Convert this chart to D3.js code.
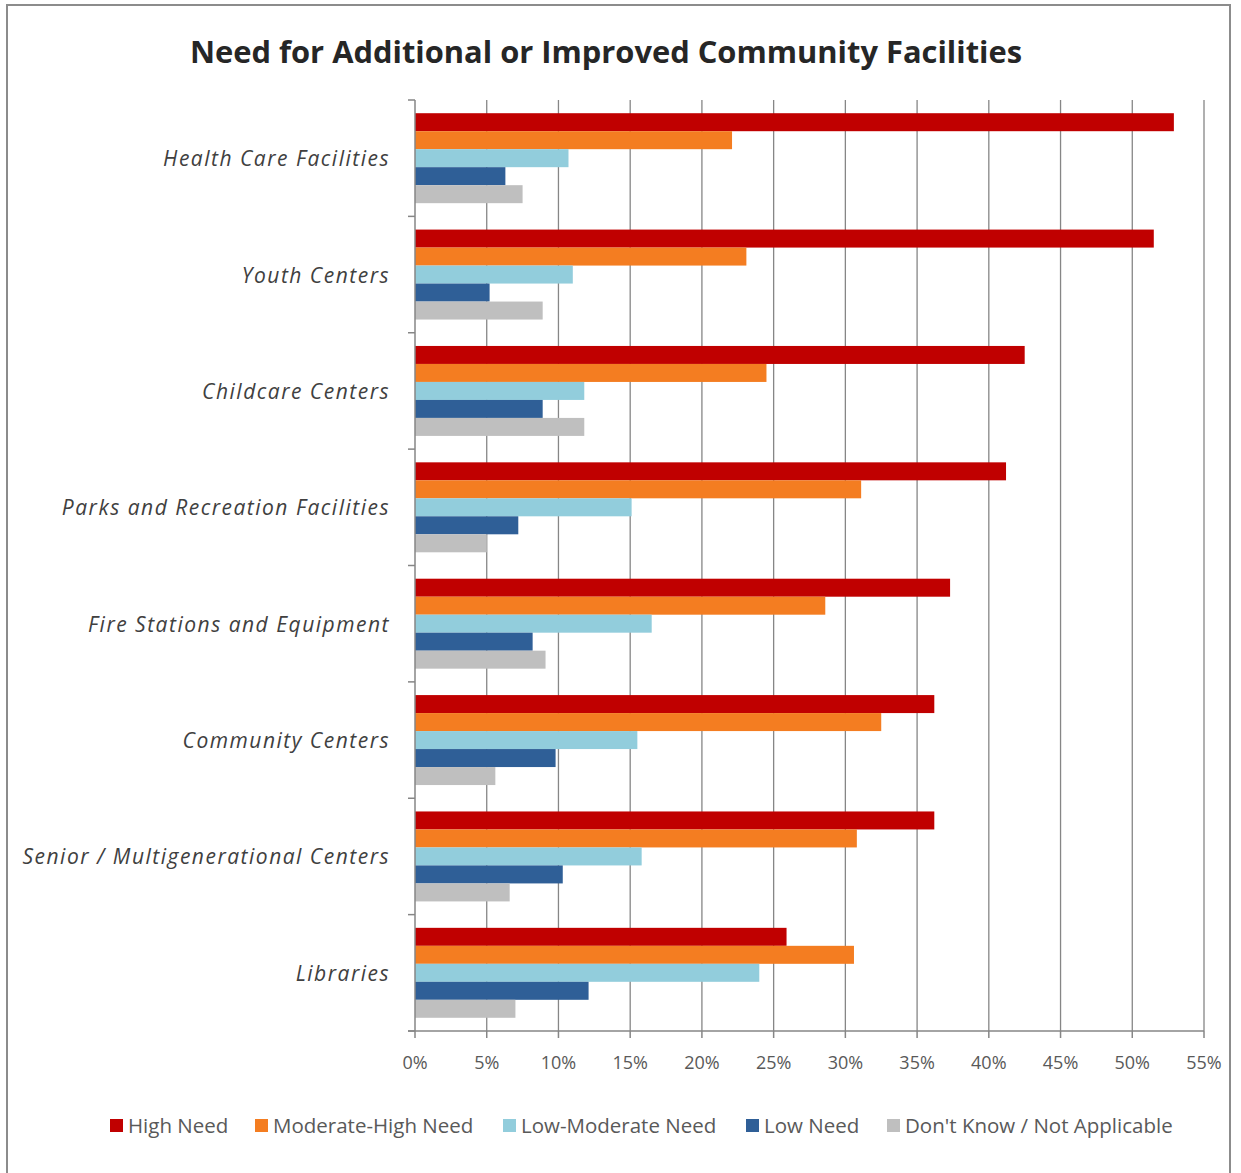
<!DOCTYPE html>
<html>
<head>
<meta charset="utf-8">
<script src="https://cdn.jsdelivr.net/npm/d3@7"></script>
<style>
  body { margin: 0; background: #fff; }
  svg text { font-family: "Open Sans", "DejaVu Sans", sans-serif; }
</style>
</head>
<body>
<div class="chart"></div>
<script>
var w = 1241;
var h = 1173;

// categories, top to bottom
var categories = ["Health Care Facilities", "Youth Centers", "Childcare Centers",
  "Parks and Recreation Facilities", "Fire Stations and Equipment",
  "Community Centers", "Senior / Multigenerational Centers", "Libraries"];

var seriesNames = ["High Need", "Moderate-High Need", "Low-Moderate Need", "Low Need", "Don't Know / Not Applicable"];

// percent values, one per category
var highNeed     = [52.9, 51.5, 42.5, 41.2, 37.3, 36.2, 36.2, 25.9];
var modHighNeed  = [22.1, 23.1, 24.5, 31.1, 28.6, 32.5, 30.8, 30.6];
var lowModNeed   = [10.7, 11.0, 11.8, 15.1, 16.5, 15.5, 15.8, 24.0];
var lowNeed      = [6.3, 5.2, 8.9, 7.2, 8.2, 9.8, 10.3, 12.1];
var dontKnow     = [7.5, 8.9, 11.8, 5.0, 9.1, 5.6, 6.6, 7.0];

var tickValues = [0, 5, 10, 15, 20, 25, 30, 35, 40, 45, 50, 55];

var colors = ["#C00000", "#F47D21", "#92CDDC", "#2F5F97", "#BFBFBF"];
var seriesValues = [highNeed, modHighNeed, lowModNeed, lowNeed, dontKnow];

var plotLeft = 415, plotRight = 1204, plotTop = 100, plotBottom = 1031;

var svg = d3.select(".chart")
            .append("svg")
            .attr("width", w)
            .attr("height", h);

// outer frame
svg.append("path")
    .attr("d", "M7,1173 V5 H1230 V1173")
    .attr("fill", "none")
    .attr("stroke", "#8c8c8c")
    .attr("stroke-width", 2);

svg.append("text")
    .text("Need for Additional or Improved Community Facilities")
    .attr("x", 190)
    .attr("y", 63)
    .attr("textLength", 832)
    .attr("lengthAdjust", "spacingAndGlyphs")
    .attr("font-size", "31px")
    .attr("font-weight", "bold")
    .attr("fill", "#262626");

var xScale = d3.scaleLinear()
                .domain([0, 55])
                .range([plotLeft, plotRight]);

var yScale = d3.scaleBand()
                .domain(categories)
                .range([plotTop, plotBottom])
                .paddingInner(0.227)
                .paddingOuter(0.1135);

var inner = d3.scaleBand()
                .domain(d3.range(seriesNames.length))
                .range([0, yScale.bandwidth()]);

// band boundaries for tick marks
var step = yScale.step();
var bounds = d3.range(categories.length + 1).map(function (i) { return plotTop + i * step; });

// gridlines
svg.selectAll("line.grid")
    .data(tickValues.slice(1))
    .enter()
    .append("line")
    .attr("class", "grid")
    .attr("x1", function (d) { return xScale(d); })
    .attr("x2", function (d) { return xScale(d); })
    .attr("y1", plotTop)
    .attr("y2", plotBottom)
    .attr("stroke", "#868686")
    .attr("stroke-width", 1.3);

// bars
seriesValues.forEach(function (vals, s) {
    svg.selectAll("rect.s" + s)
        .data(vals)
        .enter()
        .append("rect")
        .attr("class", "s" + s)
        .attr("x", xScale(0))
        .attr("y", function (d, i) { return yScale(categories[i]) + inner(s); })
        .attr("width", function (d) { return xScale(d) - xScale(0); })
        .attr("height", inner.bandwidth())
        .attr("fill", colors[s]);
});

// y axis
svg.append("line")
    .attr("x1", plotLeft).attr("x2", plotLeft)
    .attr("y1", plotTop).attr("y2", plotBottom)
    .attr("stroke", "#868686").attr("stroke-width", 1.5);
svg.selectAll("line.ytick")
    .data(bounds)
    .enter()
    .append("line")
    .attr("class", "ytick")
    .attr("x1", plotLeft - 7).attr("x2", plotLeft)
    .attr("y1", function (d) { return d; })
    .attr("y2", function (d) { return d; })
    .attr("stroke", "#868686").attr("stroke-width", 1.5);

// x axis
svg.append("line")
    .attr("x1", plotLeft - 7).attr("x2", plotRight)
    .attr("y1", plotBottom).attr("y2", plotBottom)
    .attr("stroke", "#868686").attr("stroke-width", 1.5);
svg.selectAll("line.xtick")
    .data(tickValues)
    .enter()
    .append("line")
    .attr("class", "xtick")
    .attr("x1", function (d) { return xScale(d); })
    .attr("x2", function (d) { return xScale(d); })
    .attr("y1", plotBottom).attr("y2", plotBottom + 7)
    .attr("stroke", "#868686").attr("stroke-width", 1.5);

svg.selectAll("text.xlabel")
    .data(tickValues)
    .enter()
    .append("text")
    .attr("class", "xlabel")
    .text(function (d) { return d + "%"; })
    .attr("text-anchor", "middle")
    .attr("x", function (d) { return xScale(d); })
    .attr("y", 1069)
    .attr("font-size", "18px")
    .attr("fill", "#595959");

// category labels
svg.selectAll("text.ylabel")
    .data(categories)
    .enter()
    .append("text")
    .attr("class", "ylabel")
    .text(function (d) { return d; })
    .attr("text-anchor", "end")
    .attr("x", 390)
    .attr("y", function (d) { return yScale(d) + yScale.bandwidth() / 2 + 8; })
    .attr("font-size", "21px")
    .attr("font-style", "italic")
    .attr("letter-spacing", "1.5px")
    .attr("fill", "#404040");

// legend
var legendX = [110, 255, 503, 746, 887];
var legend = svg.selectAll("g.legend")
    .data(seriesNames)
    .enter()
    .append("g")
    .attr("class", "legend")
    .attr("transform", function (d, i) { return "translate(" + legendX[i] + ",1126)"; });
legend.append("rect")
    .attr("x", 0).attr("y", -7)
    .attr("width", 13).attr("height", 13)
    .attr("fill", function (d, i) { return colors[i]; });
legend.append("text")
    .text(function (d) { return d; })
    .attr("x", 18)
    .attr("y", 7)
    .attr("font-size", "20.5px")
    .attr("fill", "#595959");
</script>
</body>
</html>
